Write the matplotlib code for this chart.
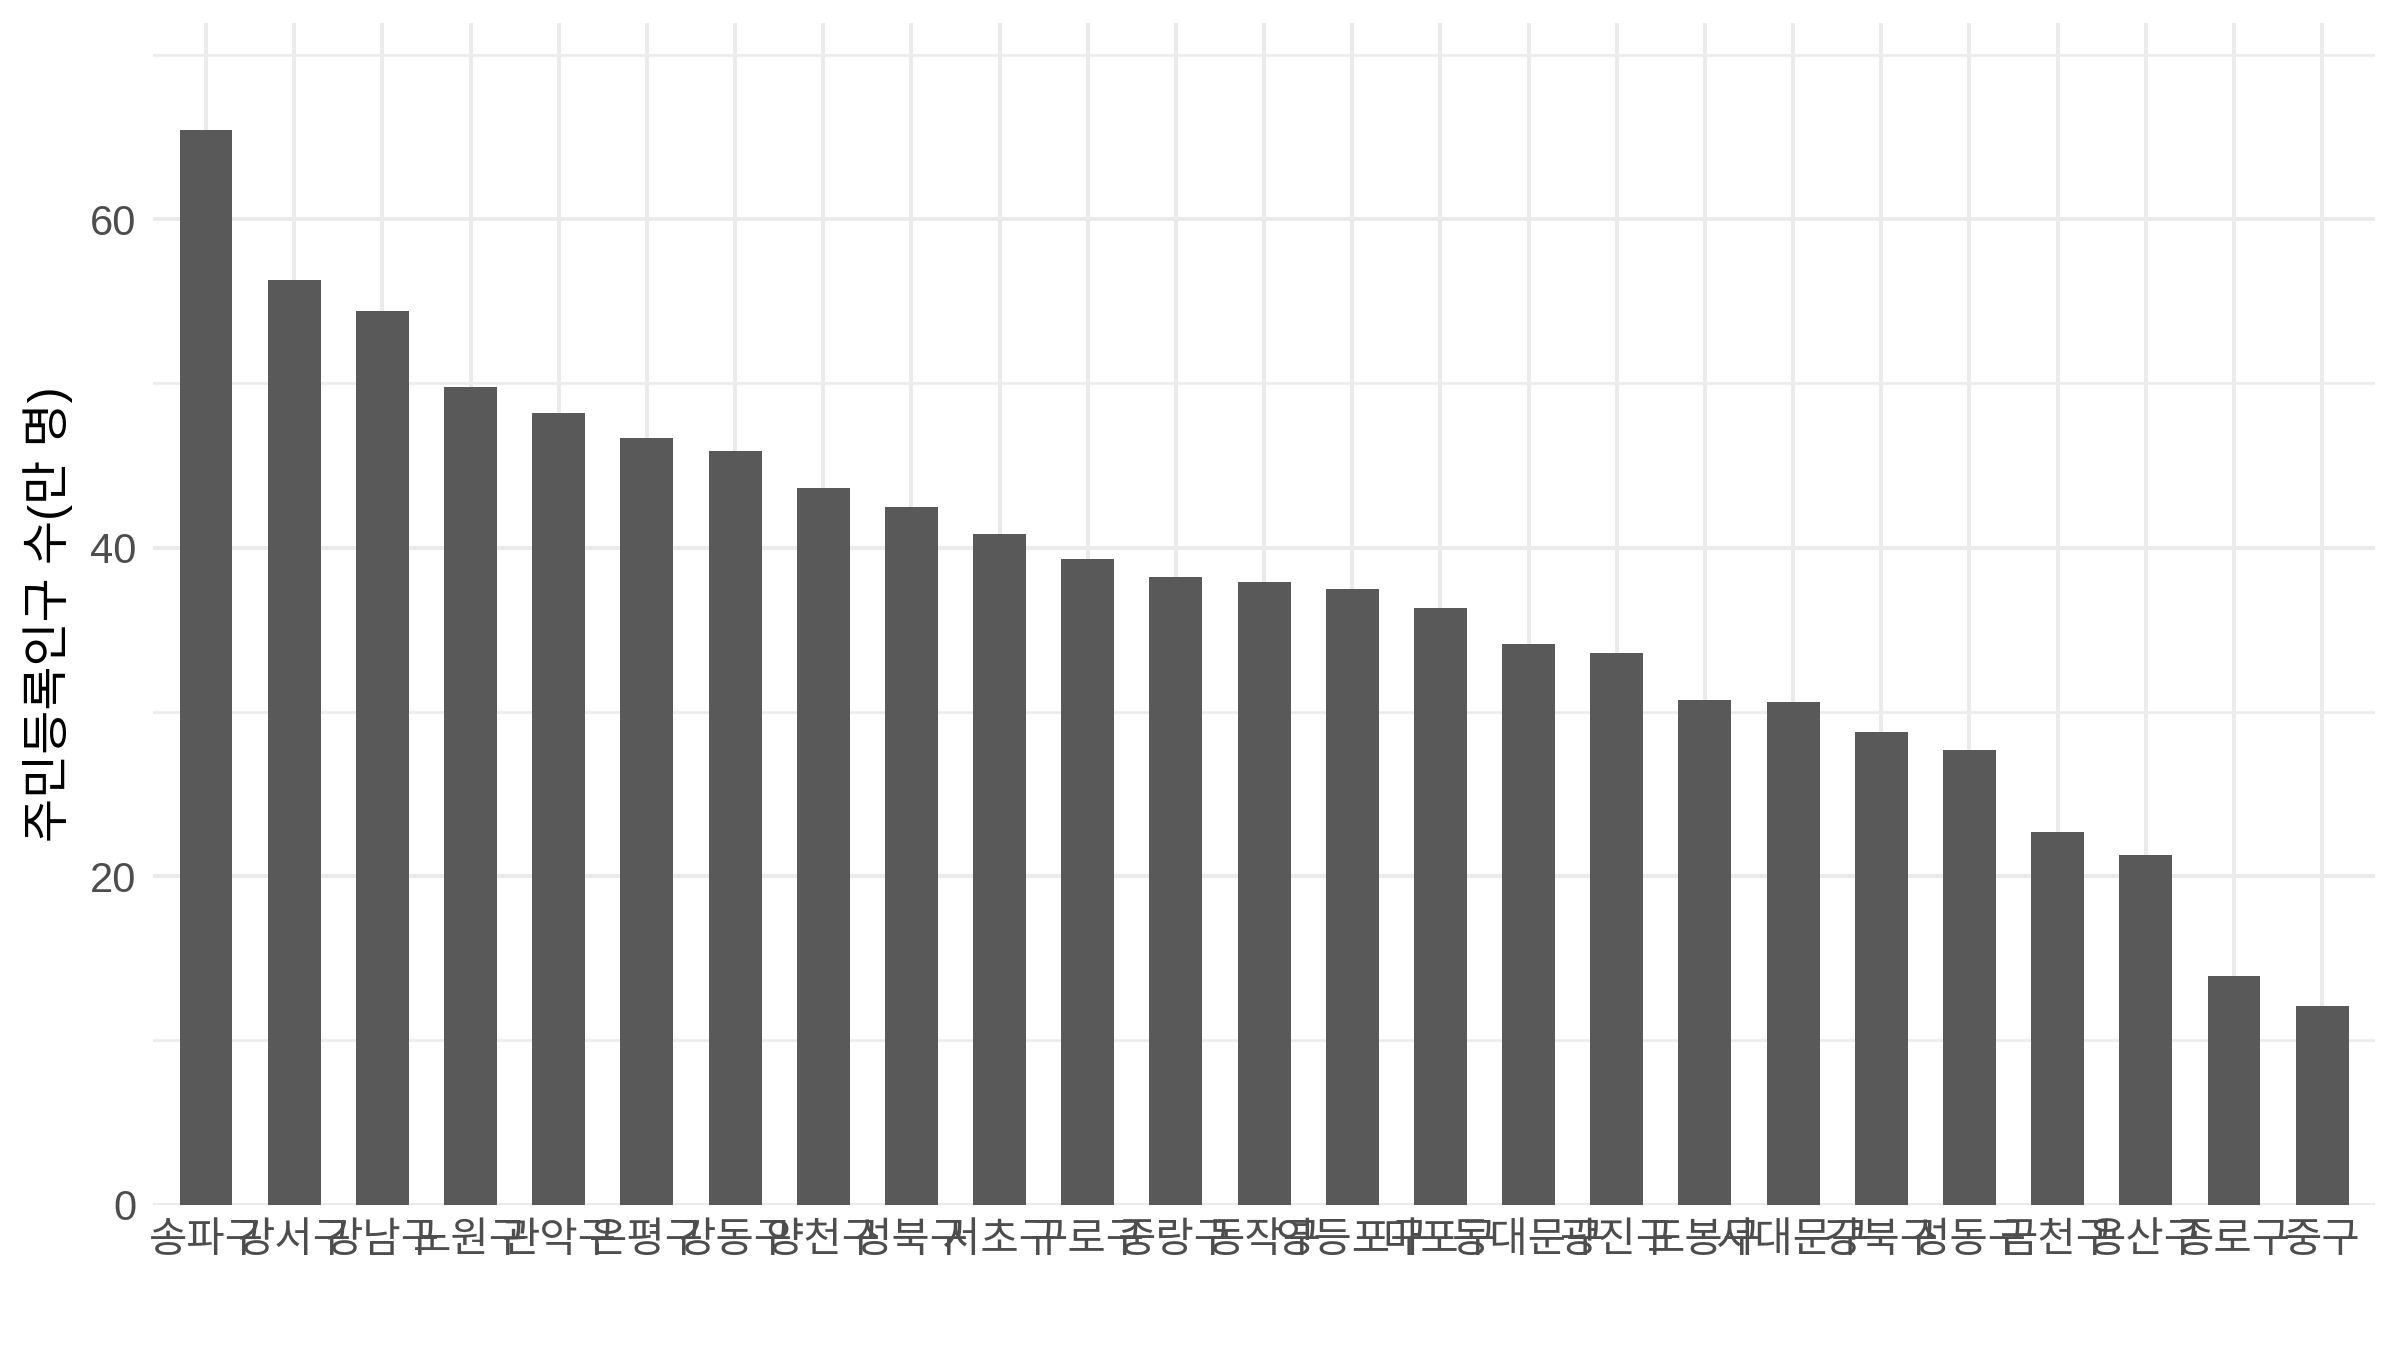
import matplotlib
matplotlib.use("Agg")
import matplotlib.pyplot as plt
from matplotlib.ticker import MultipleLocator

districts = ["송파구", "강서구", "강남구", "노원구", "관악구", "은평구", "강동구", "양천구",
             "성북구", "서초구", "구로구", "중랑구", "동작구", "영등포구", "마포구", "동대문구",
             "광진구", "도봉구", "서대문구", "강북구", "성동구", "금천구", "용산구", "종로구", "중구"]
population = [65.4, 56.3, 54.4, 49.8, 48.2, 46.7, 45.9, 43.6, 42.5, 40.8, 39.3, 38.2, 37.9,
              37.5, 36.3, 34.1, 33.6, 30.7, 30.6, 28.8, 27.7, 22.7, 21.3, 13.9, 12.1]
y_ticks = [0, 20, 40, 60]
y_label = "주민등록인구 수(만 명)"

fams = ["Liberation Sans", "Noto Sans CJK KR", "DejaVu Sans"]
plt.rcParams["font.family"] = fams

fig = plt.figure(figsize=(16, 9), dpi=150)
ax = fig.add_axes([0.0638, 0.1077, 0.9896 - 0.0638, 0.983 - 0.1077])

x = list(range(1, len(districts) + 1))
ax.bar(x, population, width=0.6, color="#595959", zorder=3)

ax.set_xlim(0.4, len(districts) + 0.6)
ax.set_ylim(0, max(population) * 1.1)
ax.set_yticks(y_ticks)
ax.yaxis.set_minor_locator(MultipleLocator(10))
ax.set_xticks(x)
ax.set_xticklabels(districts)

ax.grid(which="major", axis="both", color="#EBEBEB", linewidth=1.9, zorder=0)
ax.grid(which="minor", axis="y", color="#EBEBEB", linewidth=1.2, zorder=0)
for s in ax.spines.values():
    s.set_visible(False)
ax.tick_params(axis="both", which="both", length=0)
ax.tick_params(axis="y", labelsize=20, labelcolor="#4D4D4D", pad=8)
ax.tick_params(axis="x", labelsize=20, labelcolor="#4D4D4D", pad=8)
ax.set_ylabel(y_label, fontsize=23, color="black", labelpad=8)

fig.savefig("out.png", dpi=150, facecolor="white")
